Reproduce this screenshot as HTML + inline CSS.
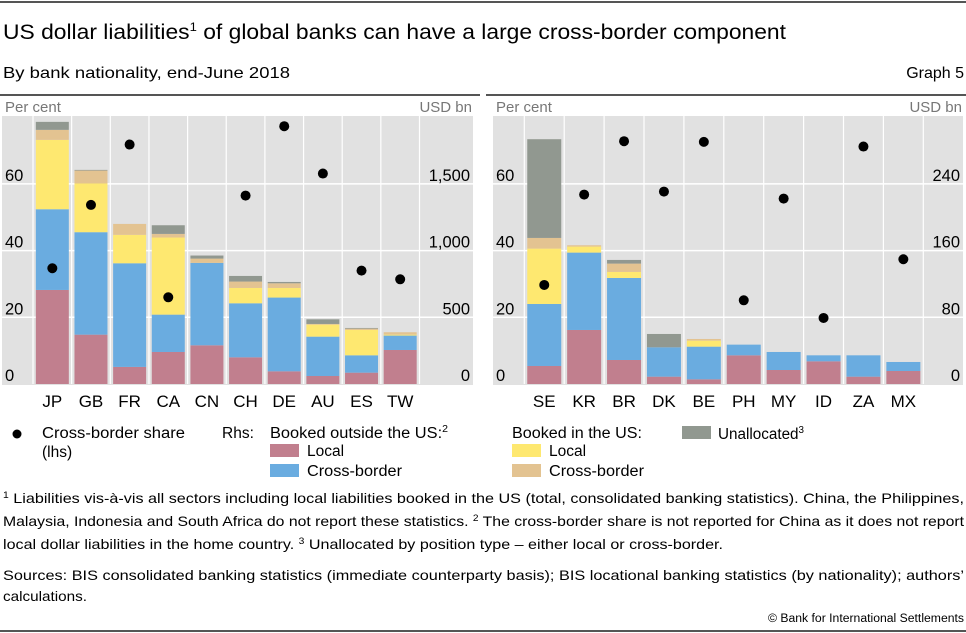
<!DOCTYPE html>
<html><head><meta charset="utf-8"><style>
html,body{margin:0;padding:0;background:#fff;}
svg{display:block;font-family:"Liberation Sans",sans-serif;}
</style></head><body>
<svg id="c" width="966" height="633" viewBox="0 0 966 633">
<rect x="0" y="1" width="966" height="2" fill="#555"/>
<text x="3" y="39" font-size="21" textLength="783" lengthAdjust="spacingAndGlyphs">US dollar liabilities<tspan font-size="12" dy="-8">1</tspan><tspan dy="8"> of global banks can have a large cross-border component</tspan></text>
<text x="3" y="78" font-size="16" textLength="287" lengthAdjust="spacingAndGlyphs">By bank nationality, end-June 2018</text>
<text x="964" y="78" font-size="16" text-anchor="end">Graph 5</text>
<rect x="0" y="94" width="480" height="2" fill="#555"/>
<rect x="486" y="94" width="480" height="2" fill="#555"/>
<g id="left"></g>
<g id="right"></g>
<g font-size="15.5">
<circle cx="17" cy="434" r="4.5" fill="#000"/>
<text x="42" y="438" textLength="143" lengthAdjust="spacingAndGlyphs">Cross-border share</text>
<text x="42" y="457">(lhs)</text>
<text x="222" y="438">Rhs:</text>
<text x="270" y="438" textLength="178" lengthAdjust="spacingAndGlyphs">Booked outside the US:<tspan font-size="10" dy="-6">2</tspan></text>
<rect x="270" y="444" width="29" height="13" fill="#c17f8e"/>
<text x="307" y="456">Local</text>
<rect x="270" y="464" width="29" height="13" fill="#6aace0"/>
<text x="307" y="476" textLength="95" lengthAdjust="spacingAndGlyphs">Cross-border</text>
<text x="512" y="438" textLength="130" lengthAdjust="spacingAndGlyphs">Booked in the US:</text>
<rect x="512" y="444" width="29" height="13" fill="#fee870"/>
<text x="549" y="456">Local</text>
<rect x="512" y="464" width="29" height="13" fill="#e3c391"/>
<text x="549" y="476" textLength="95" lengthAdjust="spacingAndGlyphs">Cross-border</text>
<rect x="682" y="426" width="29" height="13" fill="#919890"/>
<text x="718" y="439" textLength="86" lengthAdjust="spacingAndGlyphs">Unallocated<tspan font-size="10" dy="-6">3</tspan></text>
</g>
<g font-size="14">
<text x="3" y="503" textLength="961" lengthAdjust="spacingAndGlyphs"><tspan font-size="9" dy="-5">1</tspan><tspan dy="5">  Liabilities vis-à-vis all sectors including local liabilities booked in the US (total, consolidated banking statistics). China, the Philippines,</tspan></text>
<text x="3" y="526" textLength="961" lengthAdjust="spacingAndGlyphs">Malaysia, Indonesia and South Africa do not report these statistics.    <tspan font-size="9" dy="-5">2</tspan><tspan dy="5">  The cross-border share is not reported for China as it does not report</tspan></text>
<text x="3" y="549" textLength="720" lengthAdjust="spacingAndGlyphs">local dollar liabilities in the home country.    <tspan font-size="9" dy="-5">3</tspan><tspan dy="5">  Unallocated by position type – either local or cross-border.</tspan></text>
<text x="3" y="580" textLength="961" lengthAdjust="spacingAndGlyphs">Sources: BIS consolidated banking statistics (immediate counterparty basis); BIS locational banking statistics (by nationality); authors’</text>
<text x="3" y="601" textLength="84" lengthAdjust="spacingAndGlyphs">calculations.</text>
<text x="964" y="622" font-size="11.5" text-anchor="end" textLength="196" lengthAdjust="spacingAndGlyphs">© Bank for International Settlements</text>
</g>
<rect x="0" y="630" width="966" height="2" fill="#555"/>
</svg>
<script>
// Left panel data (USD bn segments; share in per cent)
const leftCats = ["JP","GB","FR","CA","CN","CH","DE","AU","ES","TW"];
const leftLocalOut = [705,370,128,240,290,200,95,60,85,255];
const leftCrossOut = [605,768,777,280,618,405,553,295,130,108];
const leftLocalUS = [520,365,213,578,0,115,72,90,190,7];
const leftCrossUS = [75,97,82,27,32,48,35,5,10,18];
const leftUnalloc = [60,5,0,65,23,42,10,35,5,0];
const leftShare = [34.7,53.7,71.8,26,null,56.5,77.3,63.1,34,31.4];
const leftLhsTicks = [0,20,40,60];
const leftRhsTicks = ["0","500","1,000","1,500"];
const leftRhsMax = 1500;
// Right panel data
const rightCats = ["SE","KR","BR","DK","BE","PH","MY","ID","ZA","MX"];
const rightLocalOut = [21.6,64.8,28.8,8.8,5.6,34.4,16.8,27.2,8.8,15.6];
const rightCrossOut = [74.4,92.8,98.4,35.2,39.2,12.8,21.6,7.2,25.6,10.8];
const rightLocalUS = [66.4,7.2,7.2,0,7.2,0,0,0,0,0];
const rightCrossUS = [12.8,1.6,10,0,2,0,0,0,0,0];
const rightUnalloc = [118.4,0,4.4,16,0,0,0,0,0,0];
const rightShare = [29.7,56.8,72.8,57.7,72.6,25.1,55.6,19.8,71.2,37.4];
const rightLhsTicks = [0,20,40,60];
const rightRhsTicks = ["0","80","160","240"];
const rightRhsMax = 240;

const NS = "http://www.w3.org/2000/svg";
const colors = ["#c17f8e","#6aace0","#fee870","#e3c391","#919890"];
const segNames = ["local-outside","cross-border-outside","local-us","cross-border-us","unallocated"];
function mk(tag, attrs, parent){const e=document.createElementNS(NS,tag);for(const k in attrs)e.setAttribute(k,attrs[k]);parent.appendChild(e);return e;}

function drawPanel(g, cfg){
  const y0=384, yTop=116, px20=66.7;
  const yL = v => y0 - v/20*px20;
  const yR = v => y0 - v/cfg.rhsMax*3*px20;
  const xC = i => cfg.x0 + cfg.step*(i+0.5);
  const bg = mk("rect",{x:cfg.pl,y:yTop,width:cfg.pr-cfg.pl,height:y0-yTop+1,fill:"#e1e1e1"},g);
  
  
  cfg.lhsTicks.forEach((t,i)=>{
    if(t>0){const l=mk("line",{x1:cfg.pl,x2:cfg.pr,y1:yL(t),y2:yL(t),stroke:"#fff","stroke-width":1.5},g);
    
    }
    const a=mk("text",{x:cfg.pl+3,y:yL(t)-3,"font-size":16.5},g);a.textContent=t;
    
    
    const b=mk("text",{x:cfg.pr-3,y:yL(t)-3,"font-size":16.5,"text-anchor":"end"},g);b.textContent=cfg.rhsTicks[i];
    
    
  });
  for(let i=0;i<=cfg.cats.length;i++){
    const x=cfg.x0+cfg.step*i;
    const l=mk("line",{x1:x,x2:x,y1:yTop,y2:y0,stroke:"#fff","stroke-width":1.2},g);
    
    
  }
  const pc=mk("text",{x:cfg.pl+3,y:112,"font-size":15,fill:"#777"},g);pc.textContent="Per cent";
  
  
  const ub=mk("text",{x:cfg.pr-1,y:112,"font-size":15,fill:"#777","text-anchor":"end"},g);ub.textContent="USD bn";
  
  
  cfg.cats.forEach((c,i)=>{
    let acc=0;
    cfg.series.forEach((s,k)=>{
      const v=s[i]; if(!v) return;
      const yb=yR(acc), yt=yR(acc+v); acc+=v;
      const r=mk("rect",{x:xC(i)-cfg.bw/2,y:yt,width:cfg.bw,height:yb-yt,fill:colors[k]},g);
      
      
    });
    const t=mk("text",{x:xC(i),y:407,"font-size":17,"text-anchor":"middle"},g);t.textContent=c;
    
    
  });
  cfg.share.forEach((v,i)=>{
    if(v==null) return;
    const d=mk("circle",{cx:xC(i),cy:yL(v),r:5,fill:"#000"},g);
    
    
  });
}
drawPanel(document.getElementById("left"),{cats:leftCats,series:[leftLocalOut,leftCrossOut,leftLocalUS,leftCrossUS,leftUnalloc],share:leftShare,lhsTicks:leftLhsTicks,rhsTicks:leftRhsTicks,rhsMax:leftRhsMax,pl:2,pr:473,x0:33,step:38.65,bw:33});
drawPanel(document.getElementById("right"),{cats:rightCats,series:[rightLocalOut,rightCrossOut,rightLocalUS,rightCrossUS,rightUnalloc],share:rightShare,lhsTicks:rightLhsTicks,rhsTicks:rightRhsTicks,rhsMax:rightRhsMax,pl:493,pr:963,x0:524.3,step:39.9,bw:34});
</script>
</body></html>
